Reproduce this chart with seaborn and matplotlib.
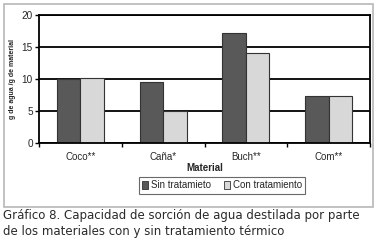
import matplotlib
matplotlib.use("Agg")
import matplotlib.pyplot as plt
import seaborn as sns
import pandas as pd
from matplotlib.patches import Rectangle

categories = ["Coco**", "Caña*", "Buch**", "Com**"]
sin_trat = [10.0, 9.6, 17.2, 7.4]
con_trat = [10.2, 5.0, 14.0, 7.4]
series = ["Sin tratamieto", "Con tratamiento"]
yticks = [0, 5, 10, 15, 20]

df = pd.DataFrame({
    "Material": categories * 2,
    "valor": sin_trat + con_trat,
    "serie": [series[0]] * 4 + [series[1]] * 4,
})

sns.set_style("white")
plt.rcParams["font.family"] = ["Liberation Sans", "DejaVu Sans"]

W, H = 378, 242
fig = plt.figure(figsize=(W / 100, H / 100), dpi=100)

# outer chart frame
fig.patches.append(Rectangle((4 / W, 1 - 207 / H), 369 / W, 203 / H,
                             transform=fig.transFigure, fill=False,
                             edgecolor="#b8b8b8", linewidth=1.2))

ax = fig.add_axes([39 / W, 1 - 143.3 / H, 331 / W, 128.3 / H])
sns.barplot(data=df, x="Material", y="valor", hue="serie",
            palette=["#595959", "#d8d8d8"], width=0.57,
            edgecolor="#333333", linewidth=0.8, ax=ax, legend=False)

ax.set_ylim(0, 20)
ax.set_xlim(-0.5, 3.5)
ax.set_yticks(yticks)
ax.set_yticklabels([str(v) for v in yticks], fontsize=7.2)
ax.yaxis.grid(True, color="black", linewidth=1.3)
ax.set_axisbelow(True)
for s in ax.spines.values():
    s.set_visible(True)
    s.set_color("black")
    s.set_linewidth(1.3)
ax.tick_params(axis="y", which="major", length=3, width=1, color="black",
               direction="out", pad=1.5, left=True)
ax.tick_params(axis="x", which="major", length=0, labelsize=7, pad=6)
ax.set_xticks([-0.5, 0.5, 1.5, 2.5, 3.5], minor=True)
ax.tick_params(axis="x", which="minor", length=3, width=1, color="black",
               direction="out", bottom=True)
ax.set_xlabel("Material", fontsize=7, fontweight="bold", labelpad=1)
ax.set_ylabel("g de agua /g de material", fontsize=5, fontweight="bold",
              labelpad=4)

handles = [Rectangle((0, 0), 1, 1, facecolor="#595959", edgecolor="#333333", linewidth=0.6),
           Rectangle((0, 0), 1, 1, facecolor="#d8d8d8", edgecolor="#333333", linewidth=0.6)]
leg = fig.legend(handles, series, loc="center", ncol=2,
                 bbox_to_anchor=(222 / W, 1 - 185.5 / H), fontsize=7,
                 frameon=True, fancybox=False, edgecolor="#444444",
                 handlelength=0.6, handleheight=0.8, handletextpad=0.3,
                 columnspacing=1.3, borderpad=0.35, borderaxespad=0)
leg.get_frame().set_linewidth(0.8)

cap = ["Gráfico 8. Capacidad de sorción de agua destilada por parte",
       "de los materiales con y sin tratamiento térmico"]
fig.text(3 / W, 1 - 216 / H, cap[0], fontsize=8.45, color="#2a2a2a",
         va="center", ha="left", family=["DejaVu Sans"])
fig.text(3 / W, 1 - 232 / H, cap[1], fontsize=8.45, color="#2a2a2a",
         va="center", ha="left", family=["DejaVu Sans"])

fig.savefig("out.png", dpi=100)
